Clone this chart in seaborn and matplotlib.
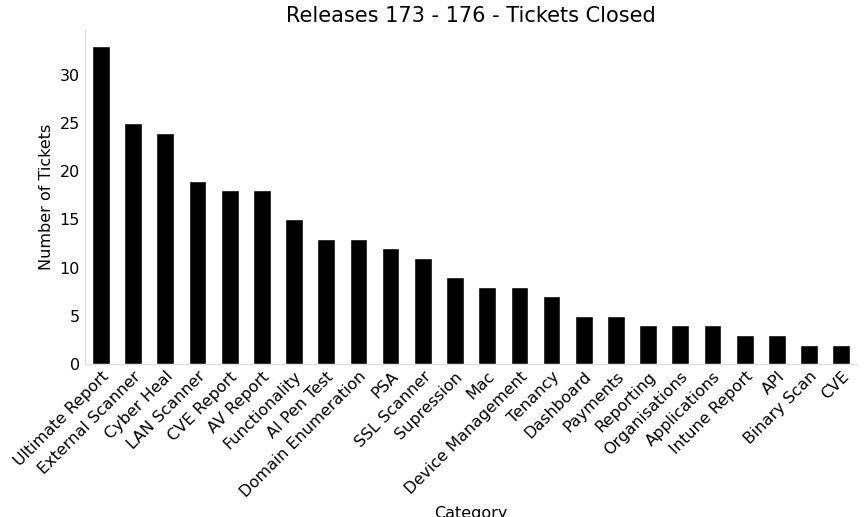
import matplotlib
matplotlib.use("Agg")
import matplotlib.pyplot as plt
import seaborn as sns
import pandas as pd

categories = ["Ultimate Report", "External Scanner", "Cyber Heal", "LAN Scanner", "CVE Report",
              "AV Report", "Functionality", "AI Pen Test", "Domain Enumeration", "PSA",
              "SSL Scanner", "Supression", "Mac", "Device Management", "Tenancy", "Dashboard",
              "Payments", "Reporting", "Organisations", "Applications", "Intune Report", "API",
              "Binary Scan", "CVE"]
tickets = [33, 25, 24, 19, 18, 18, 15, 13, 13, 12, 11, 9, 8, 8, 7, 5, 5, 4, 4, 4, 3, 3, 2, 2]

df = pd.DataFrame({"Category": categories, "Tickets": tickets})

sns.set_style("white")
plt.rcParams.update({"text.color": "black", "axes.labelcolor": "black",
                     "xtick.color": "black", "ytick.color": "black"})
fig, ax = plt.subplots(figsize=(8.66, 5.17), dpi=100)
sns.barplot(data=df, x="Category", y="Tickets", color="black", width=0.55, ax=ax, saturation=1)
ax.set_title("Releases 173 - 176 - Tickets Closed", fontsize=15, color="black")
ax.set_xlabel("Category", fontsize=11.5)
ax.set_ylabel("Number of Tickets", fontsize=11.5)
ax.set_xticks(range(len(categories)))
ax.set_xticklabels(categories, rotation=45, ha="right", rotation_mode="anchor", fontsize=11.5)
ax.tick_params(axis="y", labelsize=11.5, length=0)
ax.tick_params(axis="x", direction="in", length=4, color="white", bottom=True, labelcolor="black")
ax.set_xlim(-0.5, len(categories) - 0.5)
for s in ["top", "right"]:
    ax.spines[s].set_visible(False)
for s in ["left", "bottom"]:
    ax.spines[s].set_color("#dddddd")
fig.subplots_adjust(left=0.098, right=0.99, top=0.942, bottom=0.296)
fig.savefig("out.png", dpi=100)
